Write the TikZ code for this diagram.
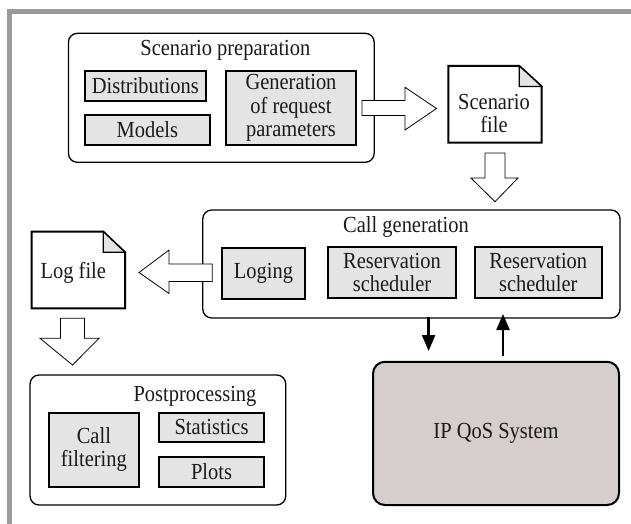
\documentclass[tikz,border=0pt]{standalone}
\usepackage{fontspec}
\setmainfont{Liberation Serif}[FakeStretch=0.89]
\usetikzlibrary{arrows.meta}
\definecolor{framegray}{HTML}{9A9A9A}
\definecolor{boxgray}{HTML}{E4E4E4}
\definecolor{qosfill}{HTML}{D6CDCD}
\definecolor{txt}{HTML}{1A1A1A}
\begin{document}
\begin{tikzpicture}[x=1pt,y=-1pt,
  font=\fontsize{23}{23.3}\selectfont,
  outerbox/.style={draw, line width=1.3pt, rounded corners=9pt, fill=white, inner sep=0pt},
  innerbox/.style={draw, line width=2pt, fill=boxgray, inner sep=0pt, align=center, text=txt},
  lbl/.style={inner sep=0pt, align=center, text=txt},
  blockarrow/.style={draw, line width=0.8pt, fill=white, line join=miter},
  docshape/.style={draw, line width=2pt, fill=white, line join=miter},
  earshape/.style={draw, line width=1.2pt, fill=boxgray, line join=miter},
  sig/.style={line width=2.4pt, -{Triangle[length=16pt,width=13pt]}}]
\useasboundingbox (0,0) rectangle (631,524);
\fill[white] (0,0) rectangle (631,524);
% frame
\fill[framegray] (7,9) rectangle (631,14);
\fill[framegray] (7,9) rectangle (12,524);

% Scenario preparation
\node[outerbox, minimum width=305.8pt, minimum height=129pt] (sp) at (221.3,97.8) {};
\node[lbl] (sptitle) at (225.4,50) {Scenario preparation};
\node[innerbox, minimum width=121.5pt, minimum height=29.7pt] (dist) at (145.3,85.9) {Distributions};
\node[innerbox, minimum width=125.5pt, minimum height=30pt] (models) at (147.3,130) {Models};
\node[innerbox, minimum width=130pt, minimum height=74pt] (gen) at (291,108) {Generation\\of request\\parameters};

% Scenario file
\draw[docshape] (448.3,66) -- (519.3,66) -- (541.7,86.5) -- (541.7,142.7) -- (448.3,142.7) -- cycle;
\draw[earshape] (519.3,66) -- (519.3,86.5) -- (541.7,86.5) -- cycle;
\node[lbl] (sfile) at (494,113.5) {Scenario\\file};

% arrow SP -> Scenario file
\draw[blockarrow] (362,100.5) -- (405,100.5) -- (405,87.3) -- (436.5,108.5) -- (405,130) -- (405,115.5) -- (362,115.5) -- cycle;

% arrow Scenario file -> Call generation
\draw[blockarrow] (485,153) -- (505,153) -- (505,178) -- (518,178) -- (495,201.7) -- (471,178) -- (485,178) -- cycle;

% Call generation
\node[outerbox, minimum width=417.3pt, minimum height=108pt] (cg) at (411.4,264) {};
\node[lbl] (cgtitle) at (406,227.5) {Call generation};
\node[innerbox, minimum width=83.6pt, minimum height=51pt] (log) at (263.5,273.8) {Loging};
\node[innerbox, minimum width=128pt, minimum height=51pt] (rs1) at (392,272.5) {Reservation\\scheduler};
\node[innerbox, minimum width=126.6pt, minimum height=51pt] (rs2) at (538.3,272.5) {Reservation\\scheduler};

% Log file
\draw[docshape] (31.7,231.7) -- (103.3,231.7) -- (125,252.3) -- (125,308.3) -- (31.7,308.3) -- cycle;
\draw[earshape] (103.3,231.7) -- (103.3,252.3) -- (125,252.3) -- cycle;
\node[lbl] (lfile) at (73.3,272.5) {Log file};

% arrow Call generation -> Log file
\draw[blockarrow] (212.3,264) -- (169,264) -- (169,250) -- (139,272.5) -- (169,293.5) -- (169,281.5) -- (212.3,281.5) -- cycle;

% arrow Log file -> Postprocessing
\draw[blockarrow] (60.5,318.3) -- (84.5,318.3) -- (84.5,338.3) -- (99,338.3) -- (72.5,365) -- (40,338.3) -- (60.5,338.3) -- cycle;

% Postprocessing
\node[outerbox, minimum width=255.7pt, minimum height=130pt] (pp) at (157.9,440) {};
\node[lbl] (pptitle) at (195,396) {Postprocessing};
\node[innerbox, minimum width=89.8pt, minimum height=74pt] (cf) at (93.9,449.7) {Call\\filtering};
\node[innerbox, minimum width=105pt, minimum height=29pt] (stats) at (211.5,427.2) {Statistics};
\node[innerbox, minimum width=105pt, minimum height=30pt] (plots) at (211.5,471.7) {Plots};

% IP QoS System
\node[draw, line width=2pt, rounded corners=12pt, fill=qosfill, minimum width=246pt, minimum height=143.3pt, text=txt] (qos) at (496,433.4) {IP QoS System};

% signal arrows
\coordinate (dstart) at (428.6,317);
\coordinate (dend) at (428.6,351);
\coordinate (ustart) at (503,356);
\coordinate (uend) at (503,314);
\draw[sig] (dstart) -- (dend);
\draw[sig] (ustart) -- (uend);
\end{tikzpicture}
\end{document}
